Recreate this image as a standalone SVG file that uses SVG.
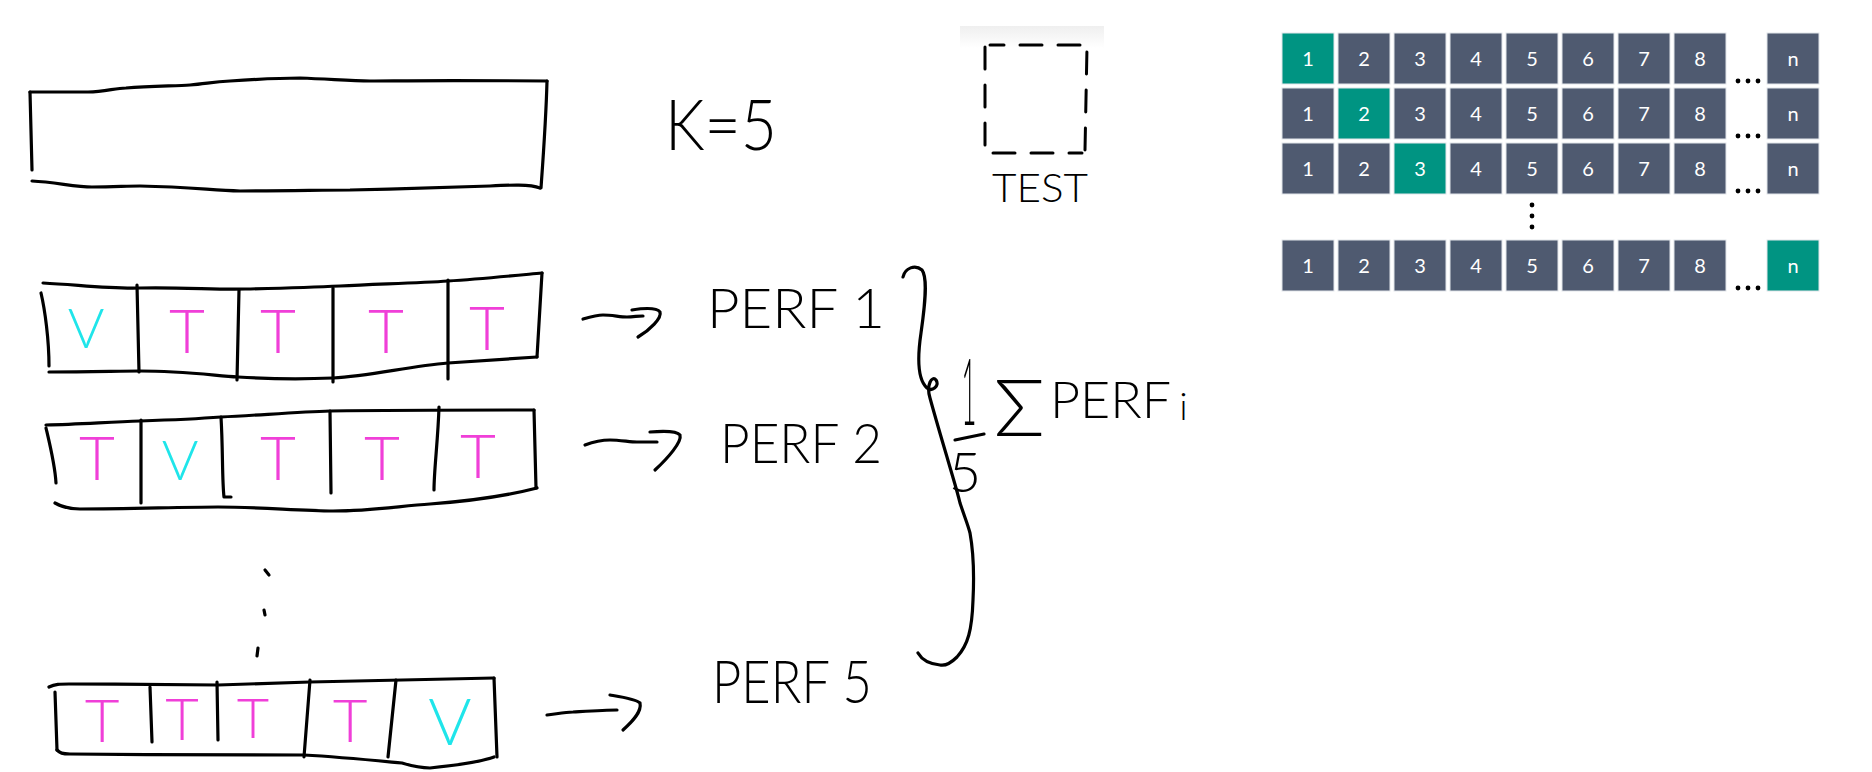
<svg xmlns="http://www.w3.org/2000/svg" width="1872" height="772" viewBox="0 0 1872 772">
<defs>
<linearGradient id="fade" x1="0" y1="0" x2="0" y2="1">
<stop offset="0" stop-color="#efefef"/>
<stop offset="1" stop-color="#ffffff"/>
</linearGradient>
</defs>
<style>
.ink{fill:none;stroke:#000;stroke-width:3.2;stroke-linecap:round;stroke-linejoin:round}
.dash{fill:none;stroke:#000;stroke-width:3;stroke-linecap:round;stroke-dasharray:22 16}
.hw{font-family:"Lato","Liberation Sans",sans-serif;font-weight:300;fill:#000}
.v{font-family:"Lato","Liberation Sans",sans-serif;font-weight:300;fill:#1fe5ea;text-anchor:middle}
.t{font-family:"Lato","Liberation Sans",sans-serif;font-weight:300;fill:#f03fd8;text-anchor:middle}
.c{fill:#4f5a70;stroke:#e2e5ea;stroke-width:1}
.g{fill:#009482;stroke:#e2e5ea;stroke-width:1}
.n{font-family:"Lato","Liberation Sans",sans-serif;font-size:20px;fill:#fff;text-anchor:middle}
.d{fill:#000}
</style>
<rect width="1872" height="772" fill="#fff"/>
<rect x="960" y="26" width="144" height="22" fill="url(#fade)"/>

<g id="dataset">
<path class="ink" d="M30,92 L88,92 C105,92 115,88 126,88 C150,86 175,86 190,85 C205,84 212,82 230,81 C260,79 280,78 300,78 C330,79 350,81 370,81 C400,81 420,80 547,81"/>
<path class="ink" d="M547,81 C546,120 543,160 541,188"/>
<path class="ink" d="M32,181 C55,182 75,187 92,187 C115,187 125,186 140,186 C190,187 210,190 240,191 C290,191 320,190 350,190 C400,189 460,187 490,186 C510,185 530,184 540,188"/>
<path class="ink" d="M30,92 L32,170"/>
</g>

<g id="k-label">
<text class="hw" x="665" y="150" font-size="70" textLength="112" lengthAdjust="spacingAndGlyphs">K=5</text>
</g>

<g id="test">
<path class="dash" d="M985,47 L985,150 M993,153 L1082,153 M1085,150 L1087,47 M1080,45 L990,45"/>
<text class="hw" x="992" y="202" font-size="40" textLength="96" lengthAdjust="spacingAndGlyphs">TEST</text>
</g>

<g id="fold1">
<path class="ink" d="M43,283 C80,285 110,289 140,288 C180,287 220,290 245,289 C290,288 320,287 340,286 C380,284 420,283 448,281 C480,279 510,276 542,273"/>
<path class="ink" d="M542,273 L537,357"/>
<path class="ink" d="M49,372 C90,372 120,371 140,371 C180,371 210,375 238,377 C270,379 310,379 333,378 C370,376 410,366 448,363 C480,361 510,359 537,357"/>
<path class="ink" d="M41,293 C45,310 49,340 49,366"/>
<path class="ink" d="M137,285 L139,372 M239,290 L237,380 M333,288 L333,382 M448,280 L448,379"/>
<text class="v" x="86" y="348" font-size="56">V</text>
<text class="t" x="187" y="353" font-size="62">T</text>
<text class="t" x="278" y="353" font-size="62">T</text>
<text class="t" x="386" y="353" font-size="62">T</text>
<text class="t" x="487" y="350" font-size="62">T</text>
</g>

<g id="fold2">
<path class="ink" d="M46,425 C80,424 110,422 140,421 C170,420 195,419 221,417 C260,415 300,412 330,411 C400,410 470,410 534,410"/>
<path class="ink" d="M534,410 L536,488"/>
<path class="ink" d="M55,503 C62,507 70,509 80,509 C130,509 180,507 218,507 C260,507 300,511 333,511 C370,511 400,506 430,504 C470,501 510,495 537,488"/>
<path class="ink" d="M46,428 C50,445 55,465 56,483"/>
<path class="ink" d="M141,420 L141,503 M221,417 C223,450 222,480 224,497 L231,497 M330,411 L331,493 M439,407 C438,440 434,470 434,490"/>
<text class="t" x="97" y="480" font-size="62">T</text>
<text class="v" x="180" y="480" font-size="56">V</text>
<text class="t" x="278" y="480" font-size="62">T</text>
<text class="t" x="382" y="480" font-size="62">T</text>
<text class="t" x="478" y="478" font-size="62">T</text>
</g>

<g id="ellipsis">
<path class="ink" d="M265,570 L269,575 M264,610 L265,615 M258,648 L257,656"/>
</g>

<g id="fold5">
<path class="ink" d="M49,687 C55,684 60,684 69,684 C120,684 180,685 218,685 C250,684 280,683 310,682 C380,680 440,679 494,678"/>
<path class="ink" d="M55,692 L57,750"/>
<path class="ink" d="M57,750 C60,753 62,754 70,754 C150,755 250,755 304,755 C340,757 370,760 402,763 C412,766 420,768 430,768 C460,765 480,762 494,757"/>
<path class="ink" d="M494,678 L497,757"/>
<path class="ink" d="M150,687 L152,742 M217,682 L218,740 M310,680 L304,757 M396,680 L388,757"/>
<text class="t" x="102" y="742" font-size="60">T</text>
<text class="t" x="182" y="740" font-size="58">T</text>
<text class="t" x="253" y="738" font-size="56">T</text>
<text class="t" x="350" y="742" font-size="60">T</text>
<text class="v" x="450" y="745" font-size="66">V</text>
</g>

<g id="perf1">
<text class="hw" x="707" y="328" font-size="56" textLength="178" lengthAdjust="spacingAndGlyphs">PERF 1</text>
</g>
<g id="perf2">
<text class="hw" x="720" y="463" font-size="56" textLength="162" lengthAdjust="spacingAndGlyphs">PERF 2</text>
</g>
<g id="perf5">
<text class="hw" x="712" y="703" font-size="60" textLength="160" lengthAdjust="spacingAndGlyphs">PERF 5</text>
</g>

<g id="formula">
<text class="hw" font-size="64" text-anchor="middle" transform="translate(969,425) scale(0.4,1.45)">1</text>
<path class="ink" d="M955,440 L984,434"/>
<text class="hw" x="965" y="492" font-size="56" text-anchor="middle">5</text>
<text class="hw" font-size="66" transform="translate(994,436) scale(1.28,1.2)">Σ</text>
<text class="hw" x="1050" y="418" font-size="52">PERF<tspan font-size="38" dx="8" dy="2">i</tspan></text>
</g>

<g id="connectors">
<path class="ink" d="M583,319 C590,317 597,315 603,315 C612,315 620,317 627,317 C633,317 638,316 643,316"/>
<path class="ink" d="M632,310 C645,308 657,308 660,312 C662,318 650,330 638,337"/>
<path class="ink" d="M585,445 C593,442 602,440 610,440 C620,440 630,442 637,442 C645,442 651,442 657,442"/>
<path class="ink" d="M650,432 C662,431 677,431 680,435 C682,442 668,458 655,470"/>
<path class="ink" d="M547,715 C556,714 565,712 573,712 C590,711 605,710 617,710"/>
<path class="ink" d="M610,695 C622,697 636,699 640,703 C642,712 632,722 623,730"/>
<path class="ink" d="M903,277 C905,268 915,264 922,270 C928,278 925,305 921,333 C917,360 918,380 927,388 C932,392 940,386 936,380 C932,375 926,385 930,398 C936,420 942,440 947,457 C953,478 957,490 960,503 C965,518 968,525 970,533 C974,555 974,580 973,600 C972,630 968,645 957,657 C950,664 945,666 940,665 C930,664 922,660 918,653"/>
</g>

<g id="grid">
<g id="row1">
<rect class="g" x="1282" y="33" width="52" height="51"/><text class="n" x="1308" y="66">1</text>
<rect class="c" x="1338" y="33" width="52" height="51"/><text class="n" x="1364" y="66">2</text>
<rect class="c" x="1394" y="33" width="52" height="51"/><text class="n" x="1420" y="66">3</text>
<rect class="c" x="1450" y="33" width="52" height="51"/><text class="n" x="1476" y="66">4</text>
<rect class="c" x="1506" y="33" width="52" height="51"/><text class="n" x="1532" y="66">5</text>
<rect class="c" x="1562" y="33" width="52" height="51"/><text class="n" x="1588" y="66">6</text>
<rect class="c" x="1618" y="33" width="52" height="51"/><text class="n" x="1644" y="66">7</text>
<rect class="c" x="1674" y="33" width="52" height="51"/><text class="n" x="1700" y="66">8</text>
<circle class="d" cx="1738" cy="81" r="2.4"/><circle class="d" cx="1748" cy="81" r="2.4"/><circle class="d" cx="1758" cy="81" r="2.4"/>
<rect class="c" x="1767" y="33" width="52" height="51"/><text class="n" x="1793" y="66">n</text>
</g>
<g id="row2">
<rect class="c" x="1282" y="88" width="52" height="51"/><text class="n" x="1308" y="121">1</text>
<rect class="g" x="1338" y="88" width="52" height="51"/><text class="n" x="1364" y="121">2</text>
<rect class="c" x="1394" y="88" width="52" height="51"/><text class="n" x="1420" y="121">3</text>
<rect class="c" x="1450" y="88" width="52" height="51"/><text class="n" x="1476" y="121">4</text>
<rect class="c" x="1506" y="88" width="52" height="51"/><text class="n" x="1532" y="121">5</text>
<rect class="c" x="1562" y="88" width="52" height="51"/><text class="n" x="1588" y="121">6</text>
<rect class="c" x="1618" y="88" width="52" height="51"/><text class="n" x="1644" y="121">7</text>
<rect class="c" x="1674" y="88" width="52" height="51"/><text class="n" x="1700" y="121">8</text>
<circle class="d" cx="1738" cy="136" r="2.4"/><circle class="d" cx="1748" cy="136" r="2.4"/><circle class="d" cx="1758" cy="136" r="2.4"/>
<rect class="c" x="1767" y="88" width="52" height="51"/><text class="n" x="1793" y="121">n</text>
</g>
<g id="row3">
<rect class="c" x="1282" y="143" width="52" height="51"/><text class="n" x="1308" y="176">1</text>
<rect class="c" x="1338" y="143" width="52" height="51"/><text class="n" x="1364" y="176">2</text>
<rect class="g" x="1394" y="143" width="52" height="51"/><text class="n" x="1420" y="176">3</text>
<rect class="c" x="1450" y="143" width="52" height="51"/><text class="n" x="1476" y="176">4</text>
<rect class="c" x="1506" y="143" width="52" height="51"/><text class="n" x="1532" y="176">5</text>
<rect class="c" x="1562" y="143" width="52" height="51"/><text class="n" x="1588" y="176">6</text>
<rect class="c" x="1618" y="143" width="52" height="51"/><text class="n" x="1644" y="176">7</text>
<rect class="c" x="1674" y="143" width="52" height="51"/><text class="n" x="1700" y="176">8</text>
<circle class="d" cx="1738" cy="191" r="2.4"/><circle class="d" cx="1748" cy="191" r="2.4"/><circle class="d" cx="1758" cy="191" r="2.4"/>
<rect class="c" x="1767" y="143" width="52" height="51"/><text class="n" x="1793" y="176">n</text>
</g>
<g id="vdots">
<circle class="d" cx="1532" cy="205" r="2.4"/><circle class="d" cx="1532" cy="216" r="2.4"/><circle class="d" cx="1532" cy="227" r="2.4"/>
</g>
<g id="row4">
<rect class="c" x="1282" y="240" width="52" height="51"/><text class="n" x="1308" y="273">1</text>
<rect class="c" x="1338" y="240" width="52" height="51"/><text class="n" x="1364" y="273">2</text>
<rect class="c" x="1394" y="240" width="52" height="51"/><text class="n" x="1420" y="273">3</text>
<rect class="c" x="1450" y="240" width="52" height="51"/><text class="n" x="1476" y="273">4</text>
<rect class="c" x="1506" y="240" width="52" height="51"/><text class="n" x="1532" y="273">5</text>
<rect class="c" x="1562" y="240" width="52" height="51"/><text class="n" x="1588" y="273">6</text>
<rect class="c" x="1618" y="240" width="52" height="51"/><text class="n" x="1644" y="273">7</text>
<rect class="c" x="1674" y="240" width="52" height="51"/><text class="n" x="1700" y="273">8</text>
<circle class="d" cx="1738" cy="288" r="2.4"/><circle class="d" cx="1748" cy="288" r="2.4"/><circle class="d" cx="1758" cy="288" r="2.4"/>
<rect class="g" x="1767" y="240" width="52" height="51"/><text class="n" x="1793" y="273">n</text>
</g>
</g>
</svg>
